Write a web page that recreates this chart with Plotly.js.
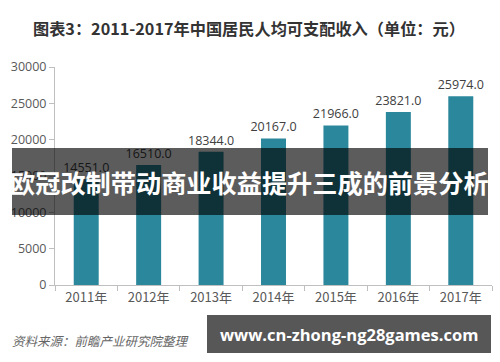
<!DOCTYPE html>
<html>
<head>
<meta charset="utf-8">
<script src="https://cdn.plot.ly/plotly-3.0.1.min.js"></script>
<style>
html,body{margin:0;padding:0;background:#fff;}
#chart{width:500px;height:362px;}
</style>
</head>
<body>
<div id="chart"></div>
<script>
var years = ["2011年","2012年","2013年","2014年","2015年","2016年","2017年"];
var income = [14551.0,16510.0,18344.0,20167.0,21966.0,23821.0,25974.0];
var yTicks = [0,5000,10000,15000,20000,25000,30000];
var titleText = "图表3：2011-2017年中国居民人均可支配收入（单位：元）";
var sourceText = "资料来源：前瞻产业研究院整理";
var bannerText = "欧冠改制带动商业收益提升三成的前景分析";
var urlText = "www.cn-zhong-ng28games.com";

var W = 500, H = 362;
var M = {l:55, r:8, t:67, b:77, pad:0};
var pw = W - M.l - M.r, ph = H - M.t - M.b;
function px(x){ return (x - M.l) / pw; }
function py(y){ return (H - M.b - y) / ph; }

var cjk = '"Noto Sans CJK SC", "Noto Sans", sans-serif';

var trace = {
  type: 'bar',
  x: years,
  y: income,
  marker: {color: '#2b879b'},
  texttemplate: '%{y:.1f}',
  textposition: 'outside',
  constraintext: 'none',
  textfont: {family: '"Open Sans", "Noto Sans", sans-serif', size: 12.5, color: '#404040'},
  cliponaxis: false,
  hoverinfo: 'none'
};

var layout = {
  width: W, height: H,
  margin: M,
  paper_bgcolor: '#fff',
  plot_bgcolor: '#fff',
  showlegend: false,
  bargap: 0.6,
  font: {family: cjk},
  xaxis: {
    type: 'category',
    showline: true, linecolor: '#bfbfbf', linewidth: 1,
    ticks: 'outside', tickson: 'boundaries', ticklen: 5, tickcolor: '#bfbfbf',
    tickfont: {family: cjk, size: 13, color: '#595959'},
    showgrid: false, zeroline: false,
    fixedrange: true
  },
  yaxis: {
    range: [0, 30000],
    tickvals: yTicks,
    ticktext: yTicks.map(String),
    showline: true, linecolor: '#bfbfbf', linewidth: 1,
    ticks: 'outside', ticklen: 5, tickcolor: '#bfbfbf',
    tickfont: {family: '"Open Sans", "Noto Sans", sans-serif', size: 12.5, color: '#595959'},
    showgrid: false, zeroline: false,
    fixedrange: true
  },
  shapes: [
    {type:'rect', xref:'paper', yref:'paper', layer:'above',
     x0: px(12), x1: px(488), y0: py(215), y1: py(148),
     fillcolor:'rgba(0,0,0,0.64)', line:{width:0}},
    {type:'rect', xref:'paper', yref:'paper', layer:'above',
     x0: px(207), x1: px(491), y0: py(353), y1: py(315),
     fillcolor:'rgba(0,0,0,0.66)', line:{width:0}}
  ],
  annotations: [
    {text: '<b>' + titleText + '</b>', xref:'paper', yref:'paper',
     x: px(249), y: py(28), xanchor:'center', yanchor:'middle', showarrow:false,
     font:{family: cjk, size: 16.2, color:'#333333'}},
    {text: '<i>' + sourceText + '</i>', xref:'paper', yref:'paper',
     x: px(10), y: py(340), xanchor:'left', yanchor:'middle', showarrow:false,
     font:{family: cjk, size: 12.5, color:'#666666'}},
    {text: '<b>' + bannerText + '</b>', xref:'paper', yref:'paper',
     x: px(249), y: py(182), xanchor:'center', yanchor:'middle', showarrow:false,
     font:{family: cjk, size: 25.2, color:'#ffffff'}},
    {text: '<b>' + urlText + '</b>', xref:'paper', yref:'paper',
     x: px(349), y: py(334), xanchor:'center', yanchor:'middle', showarrow:false,
     font:{family: '"Open Sans", "Noto Sans", sans-serif', size: 16.5, color:'#ffffff'}}
  ]
};

Plotly.newPlot('chart', [trace], layout, {staticPlot: true, displayModeBar: false});
</script>
</body>
</html>
